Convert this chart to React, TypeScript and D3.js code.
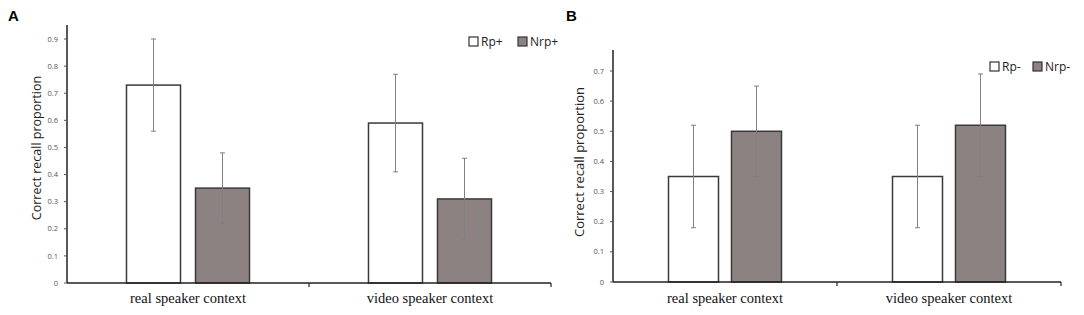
import React from "react";
import * as d3 from "d3";

const categories = ["real speaker context", "video speaker context"];

const seriesA = ["Rp+", "Nrp+"];
const meanA = [
  [0.73, 0.35],
  [0.59, 0.31],
];
const lowA = [
  [0.56, 0.22],
  [0.41, 0.16],
];
const highA = [
  [0.9, 0.48],
  [0.77, 0.46],
];
const ticksA = [0, 0.1, 0.2, 0.3, 0.4, 0.5, 0.6, 0.7, 0.8, 0.9];

const seriesB = ["Rp-", "Nrp-"];
const meanB = [
  [0.35, 0.5],
  [0.35, 0.52],
];
const lowB = [
  [0.18, 0.35],
  [0.18, 0.35],
];
const highB = [
  [0.52, 0.65],
  [0.52, 0.69],
];
const ticksB = [0, 0.1, 0.2, 0.3, 0.4, 0.5, 0.6, 0.7];

const fills = ["#ffffff", "#8c8282"];
const yTitle = "Correct recall proportion";

type PanelProps = {
  letter: string;
  letterX: number;
  series: string[];
  mean: number[][];
  low: number[][];
  high: number[][];
  ticks: number[];
  x0: number;
  x1: number;
  yZero: number;
  yTopTick: number;
  axisTop: number;
  padIn: number;
  padOut: number;
  titleX: number;
  titleY: number;
  titleSize: number;
  legendX: number;
  legendY: number;
  legendStep: number;
};

function Panel(p: PanelProps) {
  const maxT = p.ticks[p.ticks.length - 1];
  const y = d3.scaleLinear().domain([0, maxT]).range([p.yZero, p.yTopTick]);
  const xc = d3.scaleBand<string>().domain(categories).range([p.x0, p.x1]).padding(0);
  const xs = d3
    .scaleBand<string>()
    .domain(p.series)
    .range([0, xc.bandwidth()])
    .paddingInner(p.padIn)
    .paddingOuter(p.padOut);
  const fmt = (v: number) => (v === 0 ? "0" : d3.format(".1f")(v));
  return (
    <g>
      <text x={p.letterX} y={21} fontFamily="Liberation Sans, Arial, sans-serif" fontWeight="bold" fontSize={15}>
        {p.letter}
      </text>
      {categories.map((c, ci) =>
        p.series.map((s, si) => {
          const bx = (xc(c) ?? 0) + (xs(s) ?? 0);
          const bw = xs.bandwidth();
          const cx = bx + bw / 2;
          return (
            <g key={c + s}>
              <rect
                x={bx}
                y={y(p.mean[ci][si])}
                width={bw}
                height={p.yZero - y(p.mean[ci][si])}
                fill={fills[si]}
                stroke="#3a3a3a"
                strokeWidth={1.5}
              />
              <line x1={cx} x2={cx} y1={y(p.low[ci][si])} y2={y(p.high[ci][si])} stroke="#808080" strokeWidth={1} />
              <line x1={cx - 2.5} x2={cx + 2.5} y1={y(p.low[ci][si])} y2={y(p.low[ci][si])} stroke="#808080" strokeWidth={1} />
              <line x1={cx - 2.5} x2={cx + 2.5} y1={y(p.high[ci][si])} y2={y(p.high[ci][si])} stroke="#808080" strokeWidth={1} />
            </g>
          );
        })
      )}
      <line x1={p.x0} x2={p.x0} y1={p.axisTop} y2={p.yZero} stroke="#222" strokeWidth={1.5} />
      {p.ticks.map((t) => (
        <g key={t}>
          <line x1={p.x0 - 3} x2={p.x0} y1={y(t)} y2={y(t)} stroke="#555" strokeWidth={1} />
          <text
            x={p.x0 - 9}
            y={y(t)}
            dy="0.35em"
            textAnchor="end"
            fontFamily="Open Sans, Noto Sans, sans-serif"
            fontSize={7.5}
            fill="#555"
          >
            {fmt(t)}
          </text>
        </g>
      ))}
      <line x1={p.x0} x2={p.x1} y1={p.yZero} y2={p.yZero} stroke="#222" strokeWidth={1.5} />
      {categories.map((c) => (
        <line
          key={c}
          x1={(xc(c) ?? 0) + xc.bandwidth()}
          x2={(xc(c) ?? 0) + xc.bandwidth()}
          y1={p.yZero}
          y2={p.yZero + 4}
          stroke="#222"
          strokeWidth={1.2}
        />
      ))}
      {categories.map((c) => (
        <text
          key={c}
          x={(xc(c) ?? 0) + xc.bandwidth() / 2}
          y={303}
          textAnchor="middle"
          fontFamily="Liberation Serif, Times New Roman, serif"
          fontSize={14.5}
          fill="#111"
        >
          {c}
        </text>
      ))}
      <text
        transform={`translate(${p.titleX},${p.titleY}) rotate(-90)`}
        textAnchor="middle"
        fontFamily="Open Sans, Noto Sans, sans-serif"
        fontSize={p.titleSize}
        fill="#222"
      >
        {yTitle}
      </text>
      {p.series.map((s, si) => {
        const lx = p.legendX + si * p.legendStep;
        return (
          <g key={s}>
            <rect x={lx} y={p.legendY} width={9} height={9} fill={fills[si]} stroke="#333" strokeWidth={1.2} />
            <text x={lx + 12} y={p.legendY + 9} fontFamily="Open Sans, Noto Sans, sans-serif" fontSize={12} fill="#222">
              {s}
            </text>
          </g>
        );
      })}
    </g>
  );
}

export default function App() {
  return (
    <svg width={1084} height={315} style={{ position: "absolute", left: 0, top: 0, background: "#fff" }}>
      <rect width={1084} height={315} fill="#fff" />
      <Panel
        letter="A"
        letterX={8}
        series={seriesA}
        mean={meanA}
        low={lowA}
        high={highA}
        ticks={ticksA}
        x0={67}
        x1={551}
        yZero={283}
        yTopTick={39}
        axisTop={25}
        padIn={15 / 69}
        padOut={0.862}
        titleX={41}
        titleY={148}
        titleSize={12.5}
        legendX={469}
        legendY={37}
        legendStep={49}
      />
      <Panel
        letter="B"
        letterX={566}
        series={seriesB}
        mean={meanB}
        low={lowB}
        high={highB}
        ticks={ticksB}
        x0={613}
        x1={1061}
        yZero={282}
        yTopTick={71}
        axisTop={50}
        padIn={13 / 63}
        padOut={0.881}
        titleX={584}
        titleY={162}
        titleSize={13}
        legendX={990}
        legendY={62}
        legendStep={43}
      />
    </svg>
  );
}
